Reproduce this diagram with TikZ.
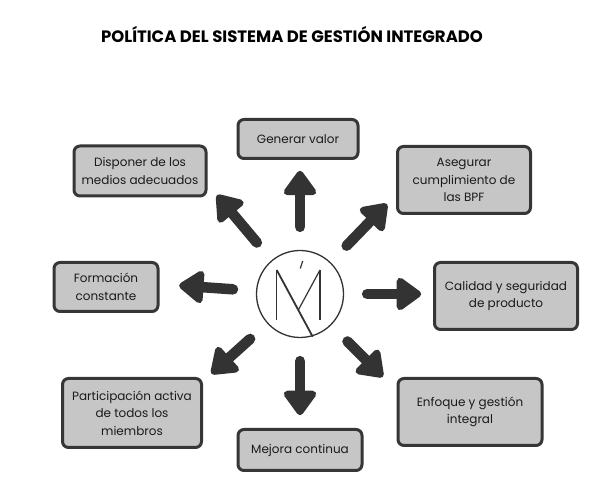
\documentclass[tikz,border=0pt]{standalone}
\usepackage{fontspec}
\setmainfont{Poppins}
\usetikzlibrary{arrows.meta, calc}
\definecolor{arrowcol}{HTML}{333333}
\definecolor{boxfill}{HTML}{C6C6C6}
\definecolor{boxline}{HTML}{363636}
\definecolor{textcol}{HTML}{1A1A1A}
\tikzset {
    policy box/.style = {
        draw = boxline, fill = boxfill, line width = 3pt,
        rounded corners = 6pt, align = center, text = textcol,
        font = \fontsize{12}{17.5}\selectfont, inner sep = 2pt
    },
    logo ring/.style = {circle, draw = arrowcol, line width = 1.3pt, minimum size = 87pt, inner sep = 0pt},
    logo line/.style = {draw = arrowcol, line width = 1.2pt},
    big arrow/.style = {
        draw = arrowcol, line width = 10.5pt, line cap = round,
        arrows = {-{Triangle[length = 27pt 0 0, width = 37pt 0 0, round]}}
    }
}
\begin{document}
\begin{tikzpicture}[x = 1pt, y = 1pt]
            \useasboundingbox (0, 0) rectangle (600, 494);
            % title
            \node (title) at (292, 459) {\fontsize{16.5}{18}\selectfont\bfseries POLÍTICA DEL SISTEMA DE GESTIÓN INTEGRADO};
            % centre mark
            \node (logo) [logo ring] at (300, 200) {};
            \begin{scope}[shift = {(logo.center)}]
                \draw [logo line] (-23.3, 24) -- (-23.3, -26);
                \draw [logo line] (20, 24) -- (20, -26);
                \draw [logo line] (20, 24) -- (-1.7, -16);
                \draw [logo line, line width = 1.8pt] (-23.3, 24) -- (12.7, -42.7);
                \draw [logo line] (2.7, 33) -- (0.3, 25.5);
            \end{scope}
            % boxes
            \node (gen) [policy box, minimum width = 120pt, minimum height = 39pt] at (298, 355) {Generar valor};
            \node (dis) [policy box, minimum width = 132pt, minimum height = 50pt] at (140, 323) {Disponer de los\\medios adecuados};
            \node (for) [policy box, minimum width = 104pt, minimum height = 49pt] at (106, 207) {Formación\\constante};
            \node (bpf) [policy box, minimum width = 133pt, minimum height = 67pt] at (464, 314) {Asegurar\\cumplimiento de\\las BPF};
            \node (cal) [policy box, minimum width = 143pt, minimum height = 67pt] at (506, 198) {Calidad y seguridad\\de producto};
            \node (par) [policy box, minimum width = 139pt, minimum height = 69pt] at (132, 81) {Participación activa\\de todos los\\miembros};
            \node (mej) [policy box, minimum width = 124pt, minimum height = 41pt] at (300, 44) {Mejora continua};
            \node (enf) [policy box, minimum width = 144pt, minimum height = 67pt] at (470, 82) {Enfoque y gestión\\integral};
            % arrows
            \foreach \ang/\len in {90/56, 46/58, 0/54, -45/50, -90/54, 222/52, 176/54, 130/62} {
                \draw [big arrow] (logo.\ang) ++(\ang:23) -- ++(\ang:\len);
            }
        \end{tikzpicture}
\end{document}
